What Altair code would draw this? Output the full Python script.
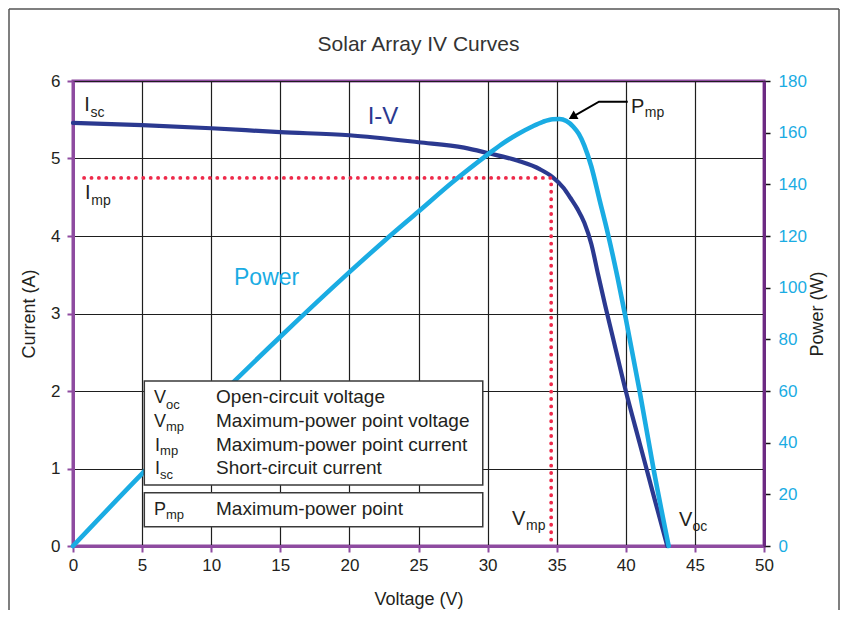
import altair as alt
import pandas as pd

# ---------------- data ----------------
iv_voltage = [0, 5, 10, 15, 20, 25, 28.3, 30, 32.2, 33.8, 34.7, 35.5, 36, 36.5, 37, 37.5, 38, 38.5, 39, 40, 41, 42, 43.0]
iv_current = [5.46, 5.43, 5.39, 5.34, 5.30, 5.21, 5.14, 5.07, 4.97, 4.86, 4.76, 4.62, 4.49, 4.35, 4.17, 3.90, 3.50, 3.11, 2.74, 2.00, 1.33, 0.66, 0]

p_voltage = [0, 5, 10, 15, 20, 22.5, 25, 27.5, 30, 31, 32.2, 33.2, 34, 34.7, 35.2, 35.7, 36.2, 36.6, 37, 37.5, 38.1, 38.7, 39.4, 40, 41, 42, 43.1]
p_power = [0, 28, 55, 81, 106, 118, 129.5, 141, 151.5, 155.5, 159.5, 162.3, 164.2, 165.2, 165.3, 164.5, 162.3, 159.5, 155, 147, 134, 121, 104, 88, 60, 30, 0]

v_mp = 34.6
i_mp = 4.75
v_line_start = 0.8

x_ticks = [0, 5, 10, 15, 20, 25, 30, 35, 40, 45, 50]
i_ticks = [0, 1, 2, 3, 4, 5, 6]
p_ticks = [0, 20, 40, 60, 80, 100, 120, 140, 160, 180]

legend_symbols = ["V", "V", "I", "I"]
legend_subs = ["oc", "mp", "mp", "sc"]
legend_texts = ["Open-circuit voltage", "Maximum-power point voltage",
                "Maximum-power point current", "Short-circuit current"]
title_text = "Solar Array IV Curves"

# ---------------- styling ----------------
FONT = "Liberation Sans"
PURPLE = "#8E4BA0"
PURPLE_DARK = "#6C2A82"
NAVY = "#2B3990"
CYAN = "#1AACE3"
RED = "#EE2A4A"
TEXT = "#231F20"
GRID = "#1e1e1e"

xscale = alt.Scale(domain=[0, 50], nice=False, zero=False)
yscale = alt.Scale(domain=[0, 6], nice=False, zero=False)
pscale = alt.Scale(domain=[0, 180], nice=False, zero=False)

x_axis = alt.Axis(values=x_ticks, title="Voltage (V)", grid=True, gridColor=GRID, gridWidth=1.2,
                  domainColor=PURPLE, domainWidth=3, tickColor=PURPLE, tickWidth=2, tickSize=6,
                  labelPadding=5, labelFontSize=17, labelColor=TEXT, labelFont=FONT,
                  labelFlush=False, labelOverlap=False,
                  titleFont=FONT, titleFontSize=18, titleFontWeight="normal", titleColor=TEXT,
                  titlePadding=17)
y_axis = alt.Axis(values=i_ticks, title="Current (A)", orient="left", grid=True, gridColor=GRID,
                  gridWidth=1.2, domainColor=PURPLE, domainWidth=3, tickColor=PURPLE, tickWidth=2,
                  tickSize=6, labelPadding=7, labelFontSize=17, labelColor=TEXT, labelFont=FONT,
                  labelFlush=False, labelOverlap=False,
                  titleFont=FONT, titleFontSize=18, titleFontWeight="normal", titleColor=TEXT,
                  titlePadding=12)
p_axis = alt.Axis(values=p_ticks, title="Power (W)", orient="right", grid=False,
                  domainColor=PURPLE_DARK, domainWidth=3, tickColor="#111111", tickWidth=1.5,
                  tickSize=6, labelPadding=8, labelFontSize=17, labelColor=CYAN, labelFont=FONT,
                  labelFlush=False, labelOverlap=False,
                  titleFont=FONT, titleFontSize=18, titleFontWeight="normal", titleColor=TEXT,
                  titleAngle=270, titlePadding=20)


def X(f):
    return alt.X(f, scale=xscale, axis=x_axis)


def Y(f, axis=y_axis):
    return alt.Y(f, scale=yscale, axis=axis)


# ---------------- curves ----------------
iv_df = pd.DataFrame({"v": iv_voltage, "i": iv_current})
p_df = pd.DataFrame({"v": p_voltage, "p": p_power})

iv_line = alt.Chart(iv_df).mark_line(color=NAVY, strokeWidth=4.2, strokeCap="round",
                                     strokeJoin="round", interpolate="monotone").encode(
    x=X("v:Q"), y=Y("i:Q"))

mp_df = pd.DataFrame({"v": [v_line_start, v_mp, v_mp], "i": [i_mp, i_mp, 0], "o": [0, 1, 2]})
mp_line = alt.Chart(mp_df).mark_line(color=RED, strokeWidth=3.8, strokeCap="round",
                                     strokeDash=[0.1, 7.3]).encode(
    x=X("v:Q"), y=Y("i:Q"), order="o:Q")

power_line = alt.Chart(p_df).mark_line(color=CYAN, strokeWidth=4.6, strokeCap="round",
                                       strokeJoin="round", interpolate="monotone").encode(
    x=X("v:Q"), y=alt.Y("p:Q", scale=pscale, axis=p_axis))

# ---------------- legend boxes ----------------
box_df = pd.DataFrame({"v1": [5.16, 5.16], "v2": [29.65, 29.65],
                       "i1": [2.129, 0.688], "i2": [0.787, 0.249]})
boxes = alt.Chart(box_df).mark_rect(fill="white", stroke="#3a3a3a", strokeWidth=1.5).encode(
    x=X("v1:Q"), x2="v2:Q", y=Y("i1:Q", None), y2="i2:Q")

# ---------------- text annotations ----------------
row_base = [1.841, 1.535, 1.226, 0.925]
row_sub = [1.764, 1.484, 1.174, 0.860]
sym_v = {"V": 5.86, "I": 5.93, "P": 5.86}
sub_v = {"V": 6.73, "I": 6.30, "P": 6.73}

rows = []
for s, sb, d, b, bs in zip(legend_symbols, legend_subs, legend_texts, row_base, row_sub):
    rows.append((s, sym_v[s], b, 18, TEXT))
    rows.append((sb, sub_v[s], bs, 13, TEXT))
    rows.append((d, 10.35, b, 19, TEXT))
rows += [
    ("P", sym_v["P"], 0.40, 18, TEXT), ("mp", sub_v["P"], 0.345, 13, TEXT),
    ("Maximum-power point", 10.35, 0.40, 19, TEXT),
    ("I", 0.82, 5.613, 20, TEXT), ("sc", 1.27, 5.535, 14, TEXT),
    ("I", 0.87, 4.477, 20, TEXT), ("mp", 1.32, 4.400, 14, TEXT),
    ("Power", 11.65, 3.368, 23, CYAN),
    ("P", 40.38, 5.587, 20, TEXT), ("mp", 41.38, 5.535, 14, TEXT),
    ("V", 31.77, 0.271, 20, TEXT), ("mp", 32.78, 0.206, 14, TEXT),
    ("V", 43.85, 0.258, 20, TEXT), ("oc", 44.83, 0.194, 14, TEXT),
]
txt_df = pd.DataFrame(rows, columns=["t", "v", "i", "fs", "c"])
texts = alt.Chart(txt_df).mark_text(align="left", baseline="alphabetic", font=FONT).encode(
    x=X("v:Q"), y=Y("i:Q", None), text="t:N",
    size=alt.Size("fs:Q", scale=None), color=alt.Color("c:N", scale=None))

iv_label = alt.Chart(pd.DataFrame({"t": ["I-V"], "v": [22.43], "i": [5.445]})).mark_text(
    align="center", baseline="alphabetic", font=FONT, fontSize=24, color=NAVY).encode(
    x=X("v:Q"), y=Y("i:Q", None), text="t:N")

# arrow to the maximum-power point
arrow_df = pd.DataFrame({"v": [40.14, 38.06, 36.14], "i": [5.733, 5.733, 5.538], "o": [0, 1, 2]})
arrow_line = alt.Chart(arrow_df).mark_line(color="black", strokeWidth=2).encode(
    x=X("v:Q"), y=Y("i:Q", None), order="o:Q")
arrow_head = alt.Chart(pd.DataFrame({"v": [36.14], "i": [5.538]})).mark_point(
    shape="triangle-up", filled=True, color="black", opacity=1, size=95, angle=240).encode(
    x=X("v:Q"), y=Y("i:Q", None))

# title and outer frame (left, top, right)
one = pd.DataFrame({"a": [0]})
title = alt.Chart(one).mark_text(align="center", baseline="alphabetic", font=FONT, fontSize=21,
                                 color="#333333").encode(
    x=alt.value(345.5), y=alt.value(-30), text=alt.value(title_text))
frame_l = alt.Chart(one).mark_rule(color="#555555", strokeWidth=1.5).encode(
    x=alt.value(-64), y=alt.value(-72), y2=alt.value(529))
frame_r = alt.Chart(one).mark_rule(color="#555555", strokeWidth=1.5).encode(
    x=alt.value(766), y=alt.value(-72), y2=alt.value(529))
frame_t = alt.Chart(one).mark_rule(color="#555555", strokeWidth=1.5).encode(
    x=alt.value(-64), x2=alt.value(766), y=alt.value(-72))

base = alt.layer(iv_line, mp_line)
overlay = alt.layer(boxes, texts, iv_label, arrow_line, arrow_head, title, frame_l, frame_r, frame_t)

chart = alt.layer(base, power_line, overlay).resolve_scale(y="independent").properties(
    width=691, height=465, padding=0,
).configure_view(stroke=PURPLE, strokeWidth=3)

chart.save("out.html", embed_options={"renderer": "svg", "actions": False})
